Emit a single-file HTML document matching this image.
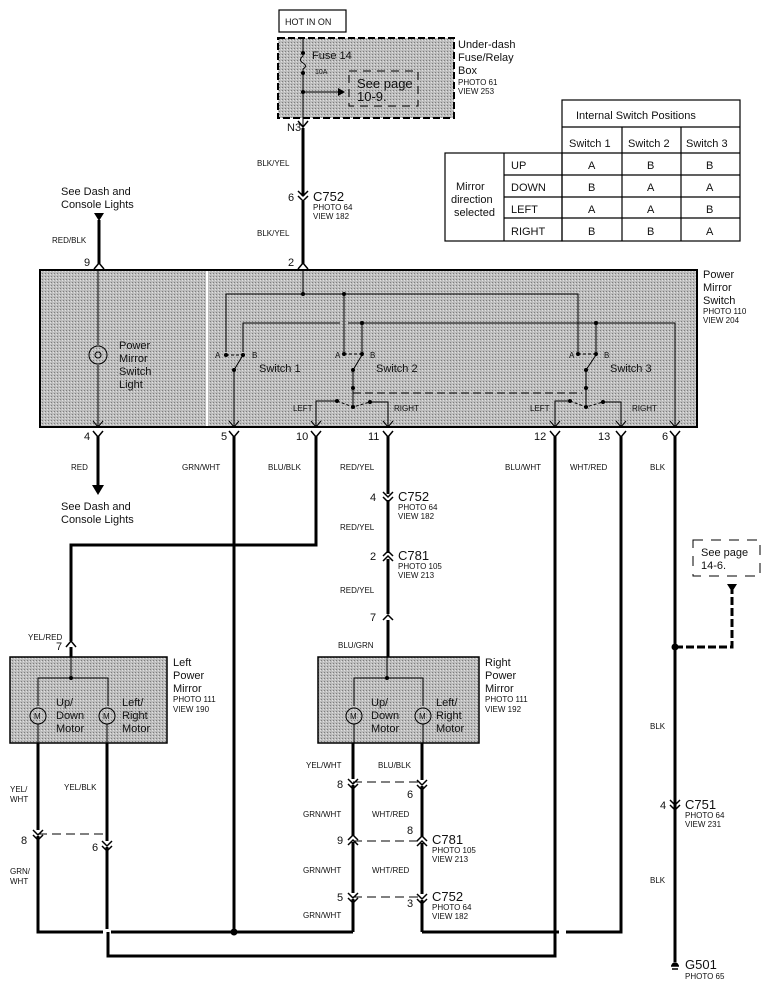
<!DOCTYPE html>
<html><head><meta charset="utf-8"><style>
html,body{margin:0;padding:0;background:#fff}
svg{display:block}
text{font-family:"Liberation Sans",sans-serif;fill:#111}
.s{font-size:9px}.m{font-size:11px}.l{font-size:13px}
</style></head><body>
<svg width="771" height="988" viewBox="0 0 771 988" xmlns="http://www.w3.org/2000/svg">
<defs>
<pattern id="g" width="3" height="3" patternUnits="userSpaceOnUse"><rect width="3" height="3" fill="#bdbdbd"/><rect width="1" height="1" fill="#7d7d7d"/><rect x="2" y="1" width="1" height="1" fill="#e0e0e0"/></pattern>
</defs>
<rect x="279" y="10" width="67" height="22" fill="#fff" stroke="#000" stroke-width="1.2"/>
<text x="285" y="25" class="s">HOT IN ON</text>
<rect x="278" y="38" width="176" height="80" fill="url(#g)" stroke="#000" stroke-width="2" stroke-dasharray="7,3"/>
<g stroke="#000" fill="none" stroke-width="1">
<path d="M303 38 V56 Q298 60 303 63 Q308 66 303 69 V128"/>
<path d="M303 92 H338"/>
<rect x="349" y="71" width="69" height="35" stroke-dasharray="8,6"/>
</g>
<path d="M338 88 L345 92 L338 96Z" fill="#000"/>
<circle cx="303" cy="53" r="2"/><circle cx="303" cy="73" r="2"/><circle cx="303" cy="92" r="2"/>
<text x="312" y="59" class="m">Fuse 14</text>
<text x="315" y="74" style="font-size:7px">10A</text>
<text x="357" y="88" class="l">See page</text>
<text x="357" y="101" class="l">10-9.</text>
<text x="458" y="48" class="m">Under-dash</text>
<text x="458" y="61" class="m">Fuse/Relay</text>
<text x="458" y="74" class="m">Box</text>
<text x="458" y="85" style="font-size:8px">PHOTO 61</text>
<text x="458" y="94" style="font-size:8px">VIEW 253</text>
<g stroke="#000" stroke-width="1.2" fill="none">
<rect x="562" y="100" width="178" height="141"/>
<rect x="445" y="153" width="117" height="88"/>
<line x1="562" y1="127" x2="740" y2="127"/><line x1="562" y1="153" x2="740" y2="153"/>
<line x1="504" y1="175" x2="740" y2="175"/><line x1="504" y1="197" x2="740" y2="197"/><line x1="504" y1="218" x2="740" y2="218"/>
<line x1="504" y1="153" x2="504" y2="241"/>
<line x1="622" y1="127" x2="622" y2="241"/><line x1="681" y1="127" x2="681" y2="241"/>
</g>
<g class="m">
<text x="576" y="119" class="m">Internal Switch Positions</text>
<text x="569" y="147" class="m">Switch 1</text><text x="628" y="147" class="m">Switch 2</text><text x="686" y="147" class="m">Switch 3</text>
<text x="511" y="169" class="m">UP</text><text x="511" y="191" class="m">DOWN</text><text x="511" y="213" class="m">LEFT</text><text x="511" y="235" class="m">RIGHT</text>
<text x="456" y="190" class="m">Mirror</text><text x="451" y="203" class="m">direction</text><text x="454" y="216" class="m">selected</text>
<text x="588" y="169" class="m">A</text><text x="647" y="169" class="m">B</text><text x="706" y="169" class="m">B</text>
<text x="588" y="191" class="m">B</text><text x="647" y="191" class="m">A</text><text x="706" y="191" class="m">A</text>
<text x="588" y="213" class="m">A</text><text x="647" y="213" class="m">A</text><text x="706" y="213" class="m">B</text>
<text x="588" y="235" class="m">B</text><text x="647" y="235" class="m">B</text><text x="706" y="235" class="m">A</text>
</g>
<g stroke="#000" stroke-width="3" fill="none">
<line x1="303" y1="128" x2="303" y2="196"/><line x1="303" y1="201" x2="303" y2="264"/>
<line x1="99" y1="220" x2="99" y2="264"/>
</g>
<g stroke="#000" stroke-width="1.5" fill="none">
<path d="M298 121 L303 127 L308 121"/>
<path d="M298 191 L303 196 L308 191 M298 196 L303 201 L308 196"/>
<path d="M298 269 L303 263 L308 269"/>
<path d="M94 269 L99 263 L104 269"/>
</g>
<path d="M94 213 L104 213 L99 221Z" fill="#000"/>
<text x="287" y="131" class="m">N3</text>
<text x="257" y="166" style="font-size:8px">BLK/YEL</text>
<text x="257" y="236" style="font-size:8px">BLK/YEL</text>
<text x="288" y="201" class="m">6</text>
<text x="313" y="201" class="l">C752</text>
<text x="313" y="210" style="font-size:8px">PHOTO 64</text>
<text x="313" y="219" style="font-size:8px">VIEW 182</text>
<text x="288" y="266" class="m">2</text>
<text x="61" y="195" class="m">See Dash and</text>
<text x="61" y="208" class="m">Console Lights</text>
<text x="52" y="243" style="font-size:8px">RED/BLK</text>
<text x="84" y="266" class="m">9</text>
<rect x="40" y="270" width="657" height="157" fill="url(#g)" stroke="#000" stroke-width="2"/>
<line x1="207" y1="271" x2="207" y2="426" stroke="#fff" stroke-width="2"/>
<text x="703" y="278" class="m">Power</text><text x="703" y="291" class="m">Mirror</text><text x="703" y="304" class="m">Switch</text>
<text x="703" y="314" style="font-size:8px">PHOTO 110</text><text x="703" y="323" style="font-size:8px">VIEW 204</text>
<g stroke="#000" stroke-width="1" fill="none">
<line x1="98" y1="270" x2="98" y2="345"/><line x1="98" y1="365" x2="98" y2="426"/>
<circle cx="98" cy="355" r="9"/><circle cx="98" cy="355" r="3"/>
<line x1="303" y1="270" x2="303" y2="294"/>
<path d="M226 352 V294 H578 V352"/>
<path d="M344 294 V352"/>
<path d="M243 352 V323 H340 M348 323 H675 V426"/>
<path d="M362 323 V352 M596 323 V352"/>
<path d="M234 370 L243 355 M234 370 V426"/>
<path d="M353 370 L362 355 M353 370 V407"/>
<path d="M586 370 L596 355 M586 370 V407"/>
<path d="M316 426 V401 H337 M370 402 H388 V426"/>
<path d="M555 426 V401 H570 M603 402 H621 V426"/>
<path d="M353 393 H582" stroke-dasharray="8,4"/>
<path d="M226 355 H243 M344 354 H362 M578 354 H596 M337 401 L353 407 L370 402 M570 401 L586 407 L603 402" stroke-dasharray="3,2"/>
<path d="M229 421 L234 427 L239 421 M311 421 L316 427 L321 421 M383 421 L388 427 L393 421 M550 421 L555 427 L560 421 M616 421 L621 427 L626 421 M670 421 L675 427 L680 421 M93 421 L98 427 L103 421"/>
</g>
<g>
<circle cx="303" cy="294" r="2"/><circle cx="344" cy="294" r="2"/><circle cx="362" cy="323" r="2"/><circle cx="596" cy="323" r="2"/>
<circle cx="226" cy="355" r="2"/><circle cx="243" cy="355" r="2"/><circle cx="234" cy="370" r="2"/>
<circle cx="344" cy="354" r="2"/><circle cx="362" cy="354" r="2"/><circle cx="353" cy="370" r="2"/><circle cx="353" cy="388" r="2"/><circle cx="353" cy="407" r="2"/>
<circle cx="578" cy="354" r="2"/><circle cx="596" cy="354" r="2"/><circle cx="586" cy="370" r="2"/><circle cx="586" cy="388" r="2"/><circle cx="586" cy="407" r="2"/>
<circle cx="337" cy="401" r="2"/><circle cx="370" cy="402" r="2"/><circle cx="570" cy="401" r="2"/><circle cx="603" cy="402" r="2"/>
</g>
<g style="font-size:8px">
<text x="215" y="358" style="font-size:8px">A</text><text x="252" y="358" style="font-size:8px">B</text>
<text x="335" y="358" style="font-size:8px">A</text><text x="370" y="358" style="font-size:8px">B</text>
<text x="569" y="358" style="font-size:8px">A</text><text x="604" y="358" style="font-size:8px">B</text>
<text x="293" y="411" style="font-size:8px">LEFT</text><text x="394" y="411" style="font-size:8px">RIGHT</text>
<text x="530" y="411" style="font-size:8px">LEFT</text><text x="632" y="411" style="font-size:8px">RIGHT</text>
</g>
<text x="259" y="372" class="m">Switch 1</text><text x="376" y="372" class="m">Switch 2</text><text x="610" y="372" class="m">Switch 3</text>
<text x="119" y="349" class="m">Power</text><text x="119" y="362" class="m">Mirror</text><text x="119" y="375" class="m">Switch</text><text x="119" y="388" class="m">Light</text>
<g stroke="#000" stroke-width="1.5" fill="none">
<path d="M93 431 L98 437 L103 431 M229 431 L234 437 L239 431 M311 431 L316 437 L321 431 M383 431 L388 437 L393 431 M550 431 L555 437 L560 431 M616 431 L621 437 L626 431 M670 431 L675 437 L680 431"/>
</g>
<g class="m"><text x="84" y="440" class="m">4</text><text x="221" y="440" class="m">5</text><text x="296" y="440" class="m">10</text><text x="368" y="440" class="m">11</text><text x="534" y="440" class="m">12</text><text x="598" y="440" class="m">13</text><text x="662" y="440" class="m">6</text></g>
<g style="font-size:8px"><text x="71" y="470" style="font-size:8px">RED</text><text x="182" y="470" style="font-size:8px">GRN/WHT</text><text x="268" y="470" style="font-size:8px">BLU/BLK</text><text x="340" y="470" style="font-size:8px">RED/YEL</text><text x="505" y="470" style="font-size:8px">BLU/WHT</text><text x="570" y="470" style="font-size:8px">WHT/RED</text><text x="650" y="470" style="font-size:8px">BLK</text></g>
<g stroke="#000" stroke-width="3" fill="none">
<line x1="98" y1="436" x2="98" y2="486"/>
<path d="M234 436 V932"/>
<path d="M316 436 V545 H71 V641"/>
<path d="M388 436 V494 M388 500 V553 M388 559 V614 M388 620 V657"/>
<path d="M555 436 V956 H108 V932"/>
<path d="M621 436 V932 H566 M559 932 H422"/>
<path d="M675 436 V962"/>
<path d="M38 743 V830 M38 836 V932 H103 M111 932 H353"/>
<path d="M107 743 V841 M107 847 V929"/>
<path d="M353 743 V779 M353 785 V836 M353 842 V893 M353 899 V932"/>
<path d="M422 743 V780 M422 786 V837 M422 843 V894 M422 900 V932"/>
<path d="M71 647 V657"/>
</g>
<path d="M92 485 L104 485 L98 495Z" fill="#000"/>
<circle cx="234" cy="932" r="3.5"/>
<text x="61" y="510" class="m">See Dash and</text><text x="61" y="523" class="m">Console Lights</text>
<g stroke="#000" stroke-width="1.5" fill="none">
<path d="M383 492 L388 497 L393 492 M383 497 L388 502 L393 497"/>
<path d="M383 556 L388 551 L393 556 M383 561 L388 556 L393 561"/>
<path d="M383 620 L388 615 L393 620"/>
<path d="M66 647 L71 641 L76 647"/>
<path d="M348 779 L353 784 L358 779 M348 784 L353 789 L358 784"/>
<path d="M417 780 L422 785 L427 780 M417 785 L422 790 L427 785"/>
<path d="M348 840 L353 835 L358 840 M348 845 L353 840 L358 845"/>
<path d="M417 841 L422 836 L427 841 M417 846 L422 841 L427 846"/>
<path d="M348 893 L353 898 L358 893 M348 898 L353 903 L358 898"/>
<path d="M417 894 L422 899 L427 894 M417 899 L422 904 L427 899"/>
<path d="M33 830 L38 835 L43 830 M33 835 L38 840 L43 835"/>
<path d="M102 841 L107 846 L112 841 M102 846 L107 851 L112 846"/>
<path d="M670 800 L675 805 L680 800 M670 805 L675 810 L680 805"/>
</g>
<g stroke="#000" stroke-width="1" stroke-dasharray="9,5" fill="none">
<line x1="353" y1="782" x2="422" y2="782"/><line x1="353" y1="841" x2="422" y2="841"/><line x1="353" y1="897" x2="422" y2="897"/><line x1="38" y1="834" x2="107" y2="834"/>
</g>
<text x="398" y="501" class="l">C752</text><text x="398" y="510" style="font-size:8px">PHOTO 64</text><text x="398" y="519" style="font-size:8px">VIEW 182</text>
<text x="370" y="501" class="m">4</text>
<text x="340" y="530" style="font-size:8px">RED/YEL</text>
<text x="370" y="560" class="m">2</text>
<text x="398" y="560" class="l">C781</text><text x="398" y="569" style="font-size:8px">PHOTO 105</text><text x="398" y="578" style="font-size:8px">VIEW 213</text>
<text x="340" y="593" style="font-size:8px">RED/YEL</text>
<text x="370" y="621" class="m">7</text>
<text x="338" y="648" style="font-size:8px">BLU/GRN</text>
<text x="56" y="650" class="m">7</text>
<text x="28" y="640" style="font-size:8px">YEL/RED</text>
<rect x="10" y="657" width="157" height="86" fill="url(#g)" stroke="#000" stroke-width="1.5"/>
<rect x="318" y="657" width="161" height="86" fill="url(#g)" stroke="#000" stroke-width="1.5"/>
<g stroke="#000" stroke-width="1" fill="none">
<path d="M71 657 V678 M38 706 V678 H108 V706 M38 724 V743 M107 724 V743"/>
<path d="M387 657 V678 M354 706 V678 H423 V706 M354 724 V743 M423 724 V743"/>
<circle cx="38" cy="716" r="8"/><circle cx="107" cy="716" r="8"/><circle cx="354" cy="716" r="8"/><circle cx="423" cy="716" r="8"/>
</g>
<circle cx="71" cy="678" r="2"/><circle cx="387" cy="678" r="2"/>
<g style="font-size:8px"><text x="34" y="719" style="font-size:8px">M</text><text x="103" y="719" style="font-size:8px">M</text><text x="350" y="719" style="font-size:8px">M</text><text x="419" y="719" style="font-size:8px">M</text></g>
<text x="56" y="706" class="m">Up/</text><text x="56" y="719" class="m">Down</text><text x="56" y="732" class="m">Motor</text>
<text x="122" y="706" class="m">Left/</text><text x="122" y="719" class="m">Right</text><text x="122" y="732" class="m">Motor</text>
<text x="371" y="706" class="m">Up/</text><text x="371" y="719" class="m">Down</text><text x="371" y="732" class="m">Motor</text>
<text x="436" y="706" class="m">Left/</text><text x="436" y="719" class="m">Right</text><text x="436" y="732" class="m">Motor</text>
<text x="173" y="666" class="m">Left</text><text x="173" y="679" class="m">Power</text><text x="173" y="692" class="m">Mirror</text><text x="173" y="702" style="font-size:8px">PHOTO 111</text><text x="173" y="712" style="font-size:8px">VIEW 190</text>
<text x="485" y="666" class="m">Right</text><text x="485" y="679" class="m">Power</text><text x="485" y="692" class="m">Mirror</text><text x="485" y="702" style="font-size:8px">PHOTO 111</text><text x="485" y="712" style="font-size:8px">VIEW 192</text>
<g style="font-size:8px">
<text x="10" y="792" style="font-size:8px">YEL/</text><text x="10" y="802" style="font-size:8px">WHT</text>
<text x="64" y="790" style="font-size:8px">YEL/BLK</text>
<text x="10" y="874" style="font-size:8px">GRN/</text><text x="10" y="884" style="font-size:8px">WHT</text>
<text x="306" y="768" style="font-size:8px">YEL/WHT</text><text x="378" y="768" style="font-size:8px">BLU/BLK</text>
<text x="303" y="817" style="font-size:8px">GRN/WHT</text><text x="372" y="817" style="font-size:8px">WHT/RED</text>
<text x="303" y="873" style="font-size:8px">GRN/WHT</text><text x="372" y="873" style="font-size:8px">WHT/RED</text>
<text x="303" y="918" style="font-size:8px">GRN/WHT</text>
<text x="650" y="729" style="font-size:8px">BLK</text><text x="650" y="883" style="font-size:8px">BLK</text>
</g>
<text x="21" y="844" class="m">8</text><text x="92" y="851" class="m">6</text>
<text x="337" y="788" class="m">8</text><text x="407" y="798" class="m">6</text>
<text x="337" y="844" class="m">9</text><text x="407" y="834" class="m">8</text>
<text x="337" y="901" class="m">5</text><text x="407" y="907" class="m">3</text>
<text x="432" y="844" class="l">C781</text><text x="432" y="853" style="font-size:8px">PHOTO 105</text><text x="432" y="862" style="font-size:8px">VIEW 213</text>
<text x="432" y="901" class="l">C752</text><text x="432" y="910" style="font-size:8px">PHOTO 64</text><text x="432" y="919" style="font-size:8px">VIEW 182</text>
<text x="660" y="809" class="m">4</text>
<text x="685" y="809" class="l">C751</text><text x="685" y="818" style="font-size:8px">PHOTO 64</text><text x="685" y="827" style="font-size:8px">VIEW 231</text>
<rect x="693" y="540" width="67" height="36" fill="none" stroke="#000" stroke-width="1" stroke-dasharray="10,8"/>
<text x="701" y="556" class="m">See page</text><text x="701" y="569" class="m">14-6.</text>
<path d="M727 584 L737 584 L732 592Z" fill="#000"/>
<path d="M675 647 H732 V590" stroke="#000" stroke-width="3" fill="none" stroke-dasharray="8,3"/>
<circle cx="675" cy="647" r="3.5"/>
<path d="M671 966 H679 M672 969 H678 M672 966 A3 3 0 0 1 678 966" stroke="#000" stroke-width="1.5" fill="#000"/>
<text x="685" y="969" class="l">G501</text><text x="685" y="979" style="font-size:8px">PHOTO 65</text>
</svg>
</body></html>
